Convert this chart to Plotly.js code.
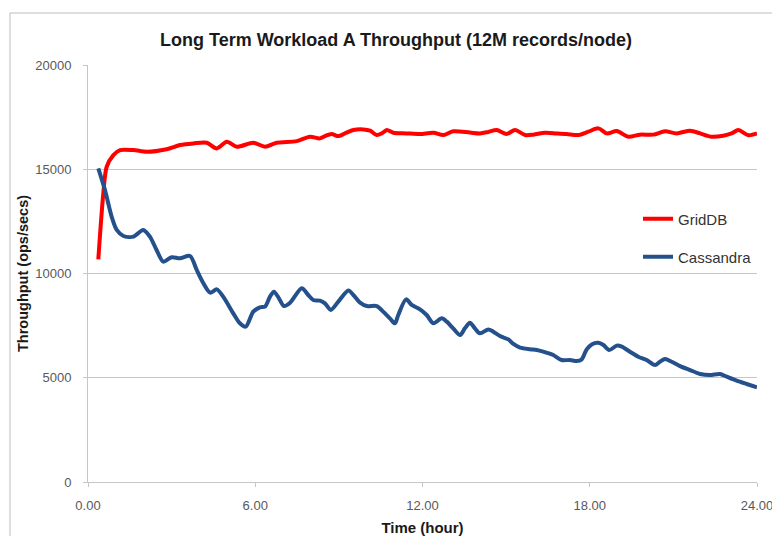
<!DOCTYPE html>
<html>
<head>
<meta charset="utf-8">
<script src="https://cdn.plot.ly/plotly-3.0.1.min.js"></script>
<style>html,body{margin:0;padding:0;background:#fff;}#chart{width:772px;height:536px;}</style>
</head>
<body>
<div id="chart"></div>
<script>
// ---- data ----
var chartTitle = "Long Term Workload A Throughput (12M records/node)";
var xTitle = "Time (hour)";
var yTitle = "Throughput (ops/secs)";
var seriesNames = ["GridDB", "Cassandra"];
var xTickVals = [0, 6, 12, 18, 24];
var xTickText = ["0.00", "6.00", "12.00", "18.00", "24.00"];
var yTickVals = [0, 5000, 10000, 15000, 20000];
var yTickText = ["0", "5000", "10000", "15000", "20000"];

var gridTime = [0.37,0.55,0.67,0.91,1.15,1.63,2.11,2.82,3.3,3.78,4.26,4.62,4.98,5.34,5.93,6.35,6.77,7.49,7.96,8.32,8.5,8.74,8.98,9.22,9.52,9.88,10.12,10.36,10.54,10.72,10.95,11.43,11.91,12.39,12.75,13.1,13.7,14.06,14.36,14.66,15.02,15.32,15.68,15.98,16.39,16.81,17.17,17.59,17.95,18.31,18.61,18.97,19.38,19.8,20.28,20.7,21.12,21.6,21.96,22.37,22.79,23.09,23.33,23.69,24.0];
var gridVals = [10680,13850,15120,15680,15920,15920,15840,15960,16160,16240,16270,16000,16320,16080,16270,16080,16270,16350,16560,16480,16590,16690,16590,16720,16880,16910,16850,16640,16720,16880,16750,16720,16690,16750,16640,16820,16760,16720,16790,16880,16690,16880,16640,16660,16750,16720,16690,16640,16800,16960,16720,16830,16560,16660,16660,16820,16720,16850,16720,16560,16610,16720,16880,16630,16720];

var cassTime = [0.37,0.61,0.85,1.03,1.27,1.63,1.98,2.22,2.46,2.70,3.0,3.3,3.66,3.9,4.14,4.38,4.62,4.85,5.21,5.45,5.66,5.93,6.17,6.35,6.53,6.67,6.85,7.03,7.25,7.67,7.9,8.08,8.32,8.5,8.71,8.98,9.34,9.52,9.76,10.0,10.36,10.59,10.83,11.01,11.13,11.41,11.61,11.91,12.15,12.39,12.69,12.87,13.1,13.35,13.52,13.7,13.88,14.06,14.36,14.54,14.78,15.08,15.26,15.5,15.86,16.1,16.33,16.69,16.99,17.29,17.53,17.71,17.89,18.07,18.31,18.49,18.7,18.97,19.15,19.44,19.74,20.04,20.34,20.52,20.7,20.94,21.24,21.6,21.96,22.31,22.67,22.91,23.27,23.63,24.0];
var cassVals = [15045,14000,12720,12090,11800,11770,12090,11770,11130,10570,10780,10730,10840,10170,9530,9080,9240,8890,8090,7610,7450,8170,8380,8410,8890,9130,8810,8440,8600,9290,8970,8730,8700,8570,8250,8650,9180,8970,8600,8440,8440,8170,7850,7610,8010,8760,8490,8280,8010,7610,7850,7690,7370,7050,7370,7640,7370,7130,7320,7210,7000,6840,6620,6450,6370,6330,6250,6090,5850,5850,5800,5880,6360,6600,6680,6570,6330,6540,6490,6250,6010,5850,5610,5770,5900,5770,5560,5370,5180,5130,5180,5050,4860,4700,4540];

// ---- styling ----
var FONT = "Liberation Sans, Arial, sans-serif";
var gridColor = "#c6c6c6";
var tickColor = "#595959";

var traces = [
  {x: gridTime, y: gridVals, name: seriesNames[0], type: "scatter", mode: "lines",
   line: {color: "#ff0000", width: 4, shape: "spline", smoothing: 0.8}, legend: "legend"},
  {x: cassTime, y: cassVals, name: seriesNames[1], type: "scatter", mode: "lines",
   line: {color: "#24508c", width: 4, shape: "spline", smoothing: 0.8}, legend: "legend2"}
];

var L = 88, R = 757, T = 65, B = 482;
var pw = R - L, ph = B - T;
function px(p){ return (p - L) / pw; }
function py(p){ return (B - p) / ph; }

var legendCommon = {
  bgcolor: "rgba(0,0,0,0)", borderwidth: 0,
  font: {family: FONT, size: 15, color: "#333333"},
  xanchor: "left", yanchor: "middle", itemwidth: 30
};

var layout = {
  width: 772, height: 536,
  margin: {l: L, r: 772 - R, t: T, b: 536 - B},
  paper_bgcolor: "#ffffff", plot_bgcolor: "#ffffff",
  font: {family: FONT, color: tickColor},
  title: {text: "<b>" + chartTitle + "</b>", font: {family: FONT, size: 18, color: "#1a1a1a"},
          xref: "paper", x: px(396), xanchor: "center", yref: "container", y: 1 - 40/536, yanchor: "middle"},
  xaxis: {
    range: [0, 24], tickvals: xTickVals, ticktext: xTickText,
    showgrid: false, zeroline: false, showline: true, linecolor: gridColor, linewidth: 1,
    ticks: "outside", ticklen: 4, tickcolor: gridColor, ticklabelstandoff: 7,
    ticklabeloverflow: "allow",
    tickfont: {family: FONT, size: 13, color: tickColor},
    title: {text: "<b>" + xTitle + "</b>", font: {family: FONT, size: 15, color: "#1a1a1a"}, standoff: 10}
  },
  yaxis: {
    range: [0, 20000], tickvals: yTickVals, ticktext: yTickText,
    showgrid: true, gridcolor: gridColor, gridwidth: 1, zeroline: false,
    showline: true, linecolor: gridColor, linewidth: 1,
    ticks: "outside", ticklen: 4, tickcolor: gridColor, ticklabelstandoff: 9,
    tickfont: {family: FONT, size: 13, color: tickColor},
    title: {text: "<b>" + yTitle + "</b>", font: {family: FONT, size: 14.5, color: "#1a1a1a"}, standoff: 3}
  },
  showlegend: true,
  legend: Object.assign({}, legendCommon, {x: px(638), y: py(219)}),
  legend2: Object.assign({}, legendCommon, {x: px(638), y: py(257)}),
  shapes: [
    {type: "rect", xref: "paper", yref: "paper",
     x0: px(10), x1: px(820), y0: py(600), y1: py(13),
     line: {color: "#bdbdbd", width: 1}, fillcolor: "rgba(0,0,0,0)", layer: "below"}
  ]
};

Plotly.newPlot("chart", traces, layout, {staticPlot: true, displayModeBar: false});
</script>
</body>
</html>
